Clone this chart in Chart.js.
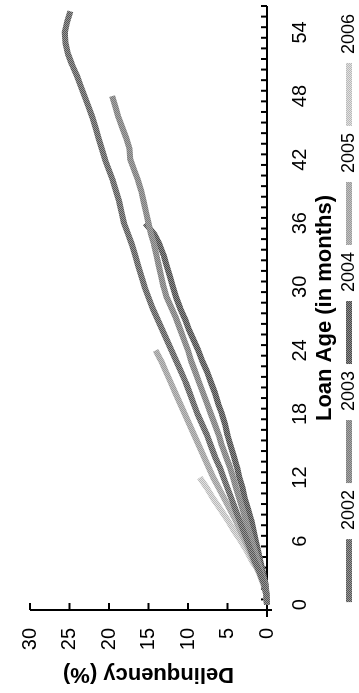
<!DOCTYPE html>
<html><head><meta charset="utf-8">
<script src="https://cdn.jsdelivr.net/npm/chart.js@4"></script>
<style>
html,body{margin:0;padding:0;background:#fff;width:359px;height:693px;overflow:hidden}
#wrap{position:absolute;left:0;top:0;width:693px;height:359px;transform-origin:0 0;transform:translate(0,693px) rotate(-90deg);background:#fff}
canvas{display:block}
</style></head><body>
<div id="wrap"><canvas id="c" width="693" height="359"></canvas></div>
<script>
// Loan age categories (months)
const loanAgeMonths = [0,1,2,3,4,5,6,7,8,9,10,11,12,13,14,15,16,17,18,19,20,21,22,23,24,25,26,27,28,29,30,31,32,33,34,35,36,37,38,39,40,41,42,43,44,45,46,47,48,49,50,51,52,53,54,55,56];
const xTickLabelMonths = [0,6,12,18,24,30,36,42,48,54];
const yTickValues = [0,5,10,15,20,25,30];
const seriesNames = ['2002','2003','2004','2005','2006'];

// Delinquency (%) by loan age, one array per vintage
const delinq2002 = [0,0.1,0.4,0.9,1.5,2.0,2.5,3.0,3.5,4.0,4.5,5.0,5.5,6.0,6.6,7.1,7.6,8.2,8.8,9.3,9.8,10.3,10.9,11.5,12.1,12.7,13.3,13.9,14.5,15.0,15.5,15.9,16.3,16.7,17.1,17.6,18.1,18.4,18.7,19.1,19.5,20.0,20.5,20.9,21.3,21.7,22.1,22.6,23.1,23.6,24.1,24.7,25.2,25.5,25.6,25.3,24.9];
const delinq2003 = [0,0.05,0.3,0.7,1.1,1.5,1.9,2.3,2.7,3.1,3.5,3.9,4.3,4.7,5.2,5.7,6.1,6.6,7.1,7.6,8.1,8.6,9.1,9.6,10.0,10.5,11.0,11.5,12.1,12.7,13.1,13.4,13.7,14.0,14.3,14.7,15.0,15.3,15.6,15.9,16.3,16.8,17.3,17.4,17.8,18.3,18.8,19.2,19.6];
const delinq2004 = [0,0.05,0.2,0.5,0.8,1.1,1.4,1.7,2.0,2.4,2.8,3.1,3.5,3.8,4.2,4.6,5.0,5.3,5.7,6.2,6.6,7.1,7.6,8.2,8.7,9.3,9.9,10.4,11.0,11.5,11.9,12.3,12.7,13.1,13.6,14.3,15.4];
const delinq2005 = [0,0.1,0.5,1.0,1.6,2.2,2.8,3.4,4.0,4.7,5.4,6.1,6.8,7.4,8.0,8.6,9.2,9.8,10.4,11.0,11.6,12.2,12.8,13.4,14.1];
const delinq2006 = [0,0.1,0.2,0.8,1.8,2.5,3.3,4.2,5.0,5.9,6.8,7.6,8.5];

const seriesData = [delinq2002, delinq2003, delinq2004, delinq2005, delinq2006];

function makePattern(a, b) {
  const pc = document.createElement('canvas');
  pc.width = 2; pc.height = 2;
  const g = pc.getContext('2d');
  g.fillStyle = a; g.fillRect(0,0,2,2);
  g.fillStyle = b; g.fillRect(0,0,1,1); g.fillRect(1,1,1,1);
  return document.getElementById('c').getContext('2d').createPattern(pc, 'repeat');
}
const seriesPatterns = [
  makePattern('#9a9a9a', '#555555'),
  makePattern('#a8a8a8', '#7a7a7a'),
  makePattern('#8e8e8e', '#484848'),
  makePattern('#c2c2c2', '#9a9a9a'),
  makePattern('#e2e2e2', '#b8b8b8')
];

Chart.defaults.font.family = "'Liberation Sans', Arial, sans-serif";
Chart.defaults.color = '#000';

const axesPlugin = {
  id: 'axes',
  beforeDatasetsDraw(chart) {
    const {ctx, chartArea: a, scales: {x, y}} = chart;
    const y0 = y.getPixelForValue(0);
    const xl = a.left, xr = a.right;
    ctx.save();
    ctx.strokeStyle = '#000';
    ctx.lineWidth = 2;
    ctx.beginPath(); ctx.moveTo(xl - 7, y0); ctx.lineTo(xr, y0); ctx.stroke();
    ctx.beginPath(); ctx.moveTo(xl, y.getPixelForValue(y.max)); ctx.lineTo(xl, y0 + 5); ctx.stroke();
    y.ticks.forEach(t => {
      const py = y.getPixelForValue(t.value);
      ctx.beginPath(); ctx.moveTo(xl, py); ctx.lineTo(xl + 7, py); ctx.stroke();
    });
    const n = loanAgeMonths.length;
    for (let i = 0; i <= n; i++) {
      const px = i === 0 ? xl : (i === n ? xr : (x.getPixelForValue(i - 1) + x.getPixelForValue(i)) / 2);
      ctx.beginPath(); ctx.moveTo(px, y0); ctx.lineTo(px, y0 - 6); ctx.stroke();
    }
    ctx.restore();
  }
};

new Chart(document.getElementById('c'), {
  type: 'line',
  data: {
    labels: loanAgeMonths.map(String),
    datasets: seriesNames.map((name, i) => ({
      label: name,
      data: seriesData[i],
      borderColor: seriesPatterns[i],
      backgroundColor: seriesPatterns[i],
      borderWidth: 6,
      pointRadius: 0,
      tension: 0,
      fill: false,
      clip: false,
      borderJoinStyle: 'round',
      borderCapStyle: 'butt'
    }))
  },
  options: {
    responsive: false,
    animation: false,
    devicePixelRatio: 1,
    layout: { padding: { top: 23, right: 6, bottom: 0, left: 0 } },
    plugins: {
      tooltip: { enabled: false },
      legend: {
        position: 'bottom',
        fullSize: false,
        maxHeight: 26,
        labels: {
          boxWidth: 63,
          boxHeight: 6,
          padding: 7,
          font: { size: 18 },
          color: '#000',
          generateLabels: () => seriesNames.map((name, i) => ({
            text: name,
            fillStyle: seriesPatterns[i],
            strokeStyle: seriesPatterns[i],
            lineWidth: 0,
            hidden: false,
            datasetIndex: i,
            fontColor: '#000'
          }))
        }
      }
    },
    scales: {
      x: {
        type: 'category',
        offset: true,
        grid: { display: false, drawTicks: false },
        border: { display: false },
        ticks: {
          autoSkip: false,
          maxRotation: 0,
          minRotation: 0,
          padding: 21,
          font: { size: 20 },
          color: '#000',
          callback: (v, idx) => xTickLabelMonths.includes(loanAgeMonths[idx]) ? String(loanAgeMonths[idx]) : null
        },
        title: {
          display: true,
          text: 'Loan Age (in months)',
          font: { size: 22, weight: 'bold' },
          color: '#000',
          padding: { top: 0, bottom: -5 }
        },
        afterFit: s => { s.height = 66; }
      },
      y: {
        type: 'linear',
        min: 0,
        max: 30,
        grid: { display: false, drawTicks: false },
        border: { display: false },
        afterBuildTicks: s => { s.ticks = yTickValues.map(v => ({ value: v })); },
        ticks: {
          padding: 18,
          font: { size: 20 },
          color: '#000'
        },
        title: {
          display: true,
          text: 'Delinquency (%)',
          font: { size: 22, weight: 'bold' },
          color: '#000',
          padding: { top: 6, bottom: 0 }
        },
        afterFit: s => { s.width = 83; }
      }
    }
  },
  plugins: [axesPlugin]
});
</script>
</body></html>
